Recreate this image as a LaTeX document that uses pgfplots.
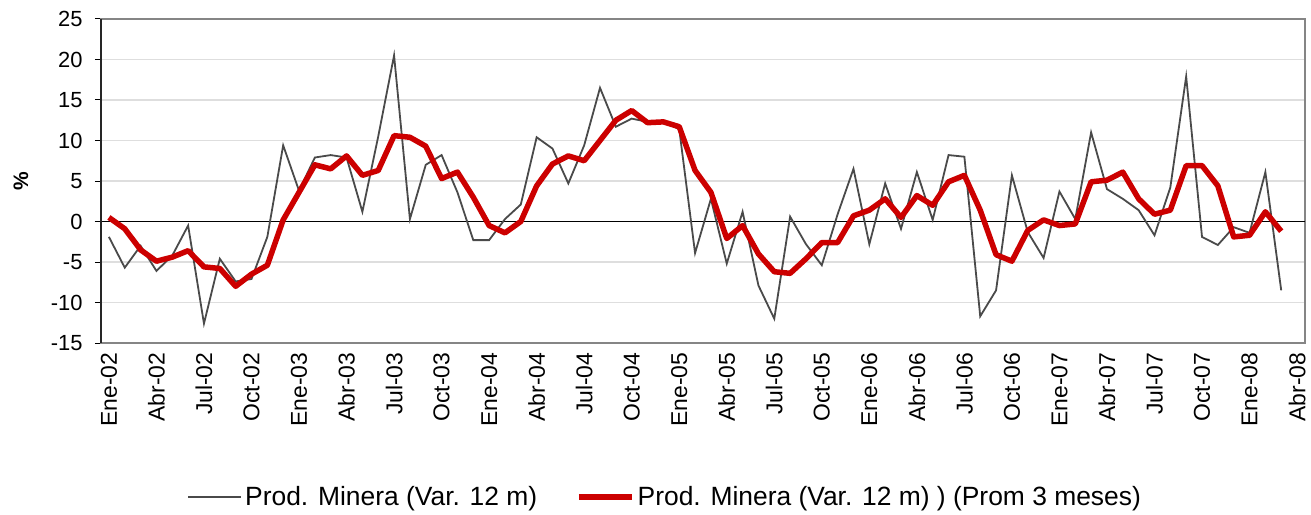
\documentclass[border=0pt]{standalone}
\usepackage{fontspec}
\setmainfont{Liberation Sans}
\usepackage{pgfplots}
\pgfplotsset{compat=1.18}

\definecolor{seriesgrey}{HTML}{4A4A4A}
\definecolor{seriesred}{HTML}{CC0000}
\definecolor{gridgrey}{HTML}{DEDEDE}
\definecolor{framegrey}{HTML}{858585}

\pgfplotstableread{
i v
0 -1.9
1 -5.7
2 -3.0
3 -6.1
4 -4.2
5 -0.5
6 -12.6
7 -4.6
8 -7.4
9 -7.1
10 -1.9
11 9.4
12 3.8
13 7.9
14 8.2
15 7.9
16 1.2
17 10.5
18 20.5
19 0.3
20 7.0
21 8.2
22 3.6
23 -2.3
24 -2.3
25 0.3
26 2.1
27 10.4
28 9.0
29 4.7
30 9.4
31 16.5
32 11.7
33 12.7
34 12.3
35 12.3
36 11.4
37 -3.9
38 2.8
39 -5.2
40 1.2
41 -7.9
42 -12.0
43 0.6
44 -2.8
45 -5.4
46 0.9
47 6.5
48 -2.8
49 4.7
50 -0.9
51 6.1
52 0.2
53 8.2
54 8.0
55 -11.7
56 -8.5
57 5.7
58 -1.3
59 -4.5
60 3.7
61 0.3
62 11.0
63 4.0
64 2.8
65 1.4
66 -1.7
67 4.2
68 17.9
69 -1.9
70 -2.9
71 -0.7
72 -1.4
73 6.1
74 -8.5
}\monthly

\pgfplotstableread{
i v
0 0.5
1 -0.9
2 -3.5
3 -4.9
4 -4.4
5 -3.6
6 -5.6
7 -5.8
8 -8.0
9 -6.5
10 -5.4
11 0.2
12 3.6
13 7.0
14 6.5
15 8.1
16 5.7
17 6.3
18 10.6
19 10.4
20 9.3
21 5.3
22 6.1
23 3.0
24 -0.5
25 -1.4
26 0.0
27 4.4
28 7.1
29 8.1
30 7.5
31 10.0
32 12.5
33 13.7
34 12.2
35 12.3
36 11.7
37 6.3
38 3.6
39 -2.1
40 -0.5
41 -4.0
42 -6.2
43 -6.4
44 -4.6
45 -2.6
46 -2.6
47 0.7
48 1.4
49 2.8
50 0.5
51 3.2
52 2.0
53 4.9
54 5.7
55 1.4
56 -4.1
57 -4.9
58 -1.1
59 0.2
60 -0.5
61 -0.3
62 4.9
63 5.1
64 6.1
65 2.8
66 0.9
67 1.4
68 6.9
69 6.9
70 4.4
71 -1.9
72 -1.7
73 1.2
74 -1.2
}\avgthree

\begin{document}
\begin{tikzpicture}
\begin{axis}[
  name=main,
  scale only axis,
  width=1204bp, height=324bp,
  xmin=-0.5, xmax=75.5,
  ymin=-15, ymax=25,
  ytick={-15,-10,-5,0,5,10,15,20,25},
  yticklabels={-15,-10,-5,0,5,10,15,20,25},
  xtick={0,3,...,75},
  xticklabels={Ene-02,Abr-02,Jul-02,Oct-02,Ene-03,Abr-03,Jul-03,Oct-03,Ene-04,Abr-04,Jul-04,Oct-04,Ene-05,Abr-05,Jul-05,Oct-05,Ene-06,Abr-06,Jul-06,Oct-06,Ene-07,Abr-07,Jul-07,Oct-07,Ene-08,Abr-08},
  tick align=outside,
  major tick length=6bp,
  ytick pos=left,
  xtick pos=bottom,
  x tick style={draw=none},
  y tick style={black, line width=1bp},
  ymajorgrids,
  major grid style={gridgrey, line width=1.2bp},
  extra y ticks={0},
  extra y tick labels={},
  extra y tick style={grid=major, major grid style={black, line width=1.2bp}},
  axis line style={framegrey, line width=1.6bp},
  yticklabel style={font=\fontsize{22}{26}\selectfont, black, xshift=-9bp},
  xticklabel style={rotate=90, anchor=east, font=\fontsize{23}{27}\selectfont, black},
  ylabel={\textbf{\%}},
  ylabel style={at={(axis description cs:-0.0664,0.5)}, anchor=center, font=\fontsize{21}{25}\selectfont},
  legend style={at={(axis description cs:0.469,-0.475)}, anchor=center, draw=none, fill=none,
    legend columns=2, font=\fontsize{26.5}{30}\selectfont,
    nodes={inner xsep=3bp, inner ysep=2bp},
    /tikz/every even column/.append style={column sep=36bp}},
  legend image code/.code={\draw[#1] (0bp,0bp) -- (53bp,0bp);},
]
\addplot[seriesgrey, line width=1.8bp, mark=none] table[x=i, y=v] {\monthly};
\addlegendentry{Prod. Minera (Var. 12 m)}
\addplot[seriesred, line width=5.5bp, mark=none, line join=round] table[x=i, y=v] {\avgthree};
\addlegendentry{Prod. Minera (Var. 12 m) ) (Prom 3 meses)}
\end{axis}
\draw[black!85, line width=1.6bp] (main.south west) -- (main.north west);
\pgfresetboundingbox
\path[use as bounding box] ([xshift=-101bp,yshift=-172bp]main.south west) rectangle ++(1311bp,515bp);
\end{tikzpicture}
\end{document}
